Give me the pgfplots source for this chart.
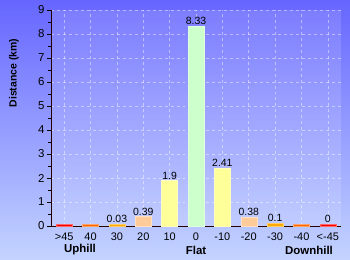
\documentclass[border=0pt]{standalone}
\usepackage{fontspec}
\setmainfont{Liberation Sans}
\usepackage{pgfplots}
\pgfplotsset{compat=1.18}
\definecolor{bgtop}{HTML}{6666FF}
\definecolor{bgbot}{HTML}{C4D4FF}
\definecolor{cRed}{HTML}{FF0000}
\definecolor{cOrR}{HTML}{FF6600}
\definecolor{cOr}{HTML}{FFAA00}
\definecolor{cPeach}{HTML}{FFCC99}
\definecolor{cYel}{HTML}{FFFF99}
\definecolor{cGrn}{HTML}{CCFFCC}
\begin{document}
\begin{tikzpicture}[x=1bp,y=1bp]
\shade[top color=bgtop, bottom color=bgbot] (0,0) rectangle (350,260);
\begin{axis}[
  at={(51bp,34bp)}, anchor=south west,
  scale only axis, width=290bp, height=216bp,
  ybar, bar width=16bp,
  xmin=-0.5, xmax=10.5, ymin=0, ymax=9,
  xtick={0,...,10},
  xticklabels={>45,40,30,20,10,0,-10,-20,-30,-40,<-45},
  ytick={0,...,9},
  minor ytick={0.5,1.5,...,8.5},
  axis lines*=left,
  axis line style={black!85!red, line width=0.8pt},
  tick align=outside,
  major tick length=4bp,
  minor tick length=3bp,
  xtick style={draw=none},
  ytick style={black, line width=0.8pt},
  minor tick style={red, line width=0.8pt},
  grid=major,
  major grid style={white, dashed, opacity=0.45, line width=0.6pt},
  axis background/.style={fill=white, fill opacity=0.13},
  tick label style={font=\fontsize{11}{12}\selectfont},
  /pgf/number format/assume math mode=true,
  xticklabel style={yshift=1bp},
  yticklabel style={font=\fontsize{11.5}{12}\selectfont, xshift=1bp},
  nodes near coords style={font=\fontsize{10.5}{12}\selectfont, inner sep=1bp, text=black},
  clip=false,
  mybar/.style={fill=#1, draw=#1!60!white, line width=0.4pt, bar shift=0pt},
]
\addplot[mybar=cRed] coordinates {(0,0.08)};
\addplot[mybar=cOrR] coordinates {(1,0.08)};
\addplot[mybar=cOr, nodes near coords={0.03}] coordinates {(2,0.09)};
\addplot[mybar=cPeach, nodes near coords={0.39}] coordinates {(3,0.39)};
\addplot[mybar=cYel, nodes near coords={1.9}] coordinates {(4,1.9)};
\addplot[mybar=cGrn, nodes near coords={8.33}] coordinates {(5,8.33)};
\addplot[mybar=cYel, nodes near coords={2.41}] coordinates {(6,2.41)};
\addplot[mybar=cPeach, nodes near coords={0.38}] coordinates {(7,0.38)};
\addplot[mybar=cOr, nodes near coords={0.1}] coordinates {(8,0.12)};
\addplot[mybar=cOrR] coordinates {(9,0.08)};
\addplot[mybar=cRed, nodes near coords={0}] coordinates {(10,0.08)};
\end{axis}
\node[rotate=90, font=\bfseries\fontsize{10.5}{12}\selectfont] at (14,187) {Distance (km)};
\node[font=\bfseries\fontsize{11.5}{12}\selectfont] at (80,10) {Uphill};
\node[font=\bfseries\fontsize{11.5}{12}\selectfont] at (196,10) {Flat};
\node[font=\bfseries\fontsize{11.5}{12}\selectfont] at (309,10) {Downhill};
\end{tikzpicture}
\end{document}
